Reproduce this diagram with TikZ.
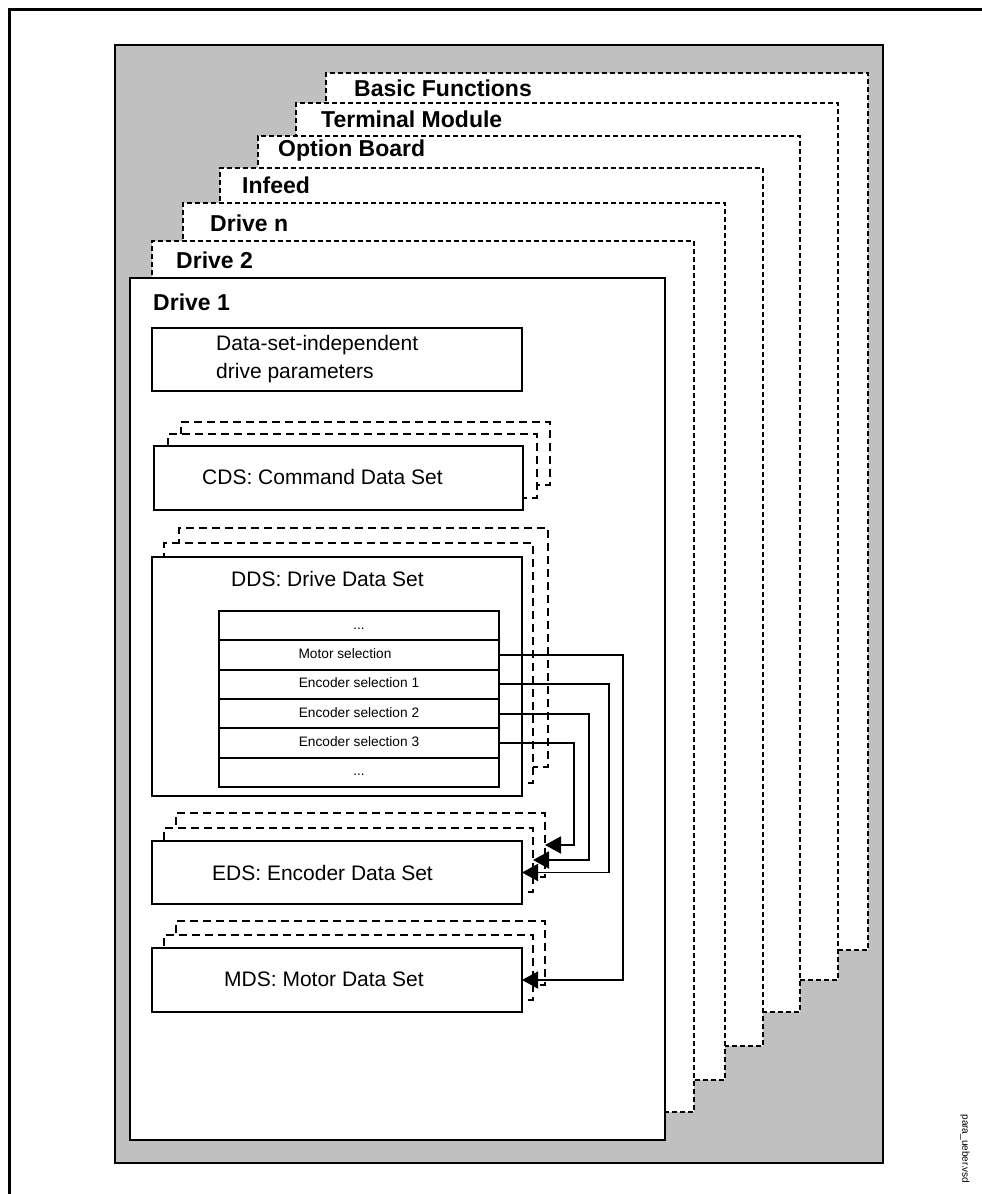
\documentclass[tikz,border=0pt]{standalone}
\usepackage{fontspec}
\setmainfont{Liberation Sans}
\usetikzlibrary{arrows.meta}
\definecolor{panelgray}{HTML}{C0C0C0}
\begin{document}
\begin{tikzpicture}[x=1pt,y=-1pt,
  solidbox/.style={draw=black, fill=white, line width=1.8pt, inner sep=0pt, outer sep=0pt, anchor=north west},
  bigdash/.style={draw=black, fill=white, line width=1.5pt, dash pattern=on 5pt off 3pt, inner sep=0pt, outer sep=0pt, anchor=north west},
  shadowbox/.style={draw=black, fill=white, line width=1.5pt, dash pattern=on 8pt off 5pt, inner sep=0pt, outer sep=0pt, anchor=north west},
  title/.style={font=\fontsize{23}{27}\selectfont\bfseries, anchor=west, inner sep=0pt},
  label/.style={font=\fontsize{21}{28}\selectfont, anchor=west, inner sep=0pt, align=left},
  row/.style={draw=black, line width=1.8pt, minimum width=280pt, minimum height=29.33pt, inner sep=0pt, outer sep=0pt},
  rowtext/.style={font=\fontsize{13.7}{16}\selectfont, inner sep=0pt, text height=0.72em, text depth=0pt},
  conn/.style={line width=1.9pt, -{Triangle[length=16pt,width=17pt]}}
]
\useasboundingbox (0,0) rectangle (982,1194);
% outer frame (only top and left visible)
\coordinate (fbl) at (9.5,1194);
\coordinate (ftl) at (9.5,9.5);
\coordinate (ftr) at (982,9.5);
\draw[line width=2.2pt] (fbl) -- (ftl) -- (ftr);
% gray panel
\node[solidbox, fill=panelgray, minimum width=768pt, minimum height=1118pt] (panel) at (115,45) {};
% stacked component boxes
\node[bigdash, minimum width=542pt, minimum height=877pt] (basic) at (326,73) {};
\node[title] (tbasic) at (354,88) {Basic Functions};
\node[bigdash, minimum width=542pt, minimum height=877pt] (term) at (296,103) {};
\node[title] (tterm) at (321,119) {Terminal Module};
\node[bigdash, minimum width=542pt, minimum height=876pt] (opt) at (258,136) {};
\node[title] (topt) at (278,151) {Option Board};
\node[bigdash, minimum width=543pt, minimum height=878pt] (infeed) at (220,168) {};
\node[title] (tinfeed) at (242,185) {Infeed};
\node[bigdash, minimum width=542pt, minimum height=877pt] (driven) at (183,203) {};
\node[title] (tdriven) at (210,223) {Drive n};
\node[bigdash, minimum width=542pt, minimum height=871pt] (drive2) at (152,241) {};
\node[title] (tdrive2) at (176,260) {Drive 2};
\node[solidbox, minimum width=535pt, minimum height=862pt] (drive1) at (130,278) {};
\node[title] (tdrive1) at (153,302) {Drive 1};
% data-set-independent
\node[solidbox, minimum width=370pt, minimum height=63pt] (dsi) at (152,328) {};
\node[label] (tdsi) at (216,359) {Data-set-independent\\drive parameters};
% CDS
\node[shadowbox, minimum width=369pt, minimum height=63pt] (cds2) at (181,422) {};
\node[shadowbox, minimum width=369pt, minimum height=64pt] (cds1) at (168,434) {};
\node[solidbox, minimum width=369pt, minimum height=64pt] (cds) at (154,446) {};
\node[label] (tcds) at (202,477) {CDS: Command Data Set};
% DDS
\node[shadowbox, minimum width=369pt, minimum height=239pt] (dds2) at (179,528) {};
\node[shadowbox, minimum width=369pt, minimum height=240pt] (dds1) at (164,543) {};
\node[solidbox, minimum width=370pt, minimum height=239pt] (dds) at (152,557) {};
\node[label] (tdds) at (231,579) {DDS: Drive Data Set};
% parameter table
\node[row] (r1) at (359,625.67) {};
\node[row] (r2) at (359,655) {};
\node[row] (r3) at (359,684.33) {};
\node[row] (r4) at (359,713.67) {};
\node[row] (r5) at (359,743) {};
\node[row] (r6) at (359,772.33) {};
\node[rowtext] (t1) at (r1.center) {...};
\node[rowtext] (t2) at ([xshift=-14pt]r2.center) {Motor selection};
\node[rowtext] (t3) at (r3.center) {Encoder selection 1};
\node[rowtext] (t4) at (r4.center) {Encoder selection 2};
\node[rowtext] (t5) at (r5.center) {Encoder selection 3};
\node[rowtext] (t6) at (r6.center) {...};
% EDS
\node[shadowbox, minimum width=369pt, minimum height=64pt] (eds2) at (176,813) {};
\node[shadowbox, minimum width=369pt, minimum height=64pt] (eds1) at (164,828) {};
\node[solidbox, minimum width=370pt, minimum height=63pt] (eds) at (152,841) {};
\node[label] (teds) at (212,873) {EDS: Encoder Data Set};
% MDS
\node[shadowbox, minimum width=369pt, minimum height=64pt] (mds2) at (176,921) {};
\node[shadowbox, minimum width=369pt, minimum height=65pt] (mds1) at (164,935) {};
\node[solidbox, minimum width=370pt, minimum height=64pt] (mds) at (152,948) {};
\node[label] (tmds) at (224,979) {MDS: Motor Data Set};
% connectors
\draw[conn] (r2.east) -- ++(124,0) |- (mds.east);
\draw[conn] (r3.east) -- ++(110,0) |- (eds.east);
\draw[conn] (r4.east) -- ++(90,0) |- (eds1.east);
\draw[conn] (r5.east) -- ++(75,0) |- (eds2.east);
% file name
\node[font=\fontsize{10}{12}\selectfont, rotate=-90, inner sep=0pt] (fname) at (965,1149) {para\_ueber.vsd};
\end{tikzpicture}
\end{document}
